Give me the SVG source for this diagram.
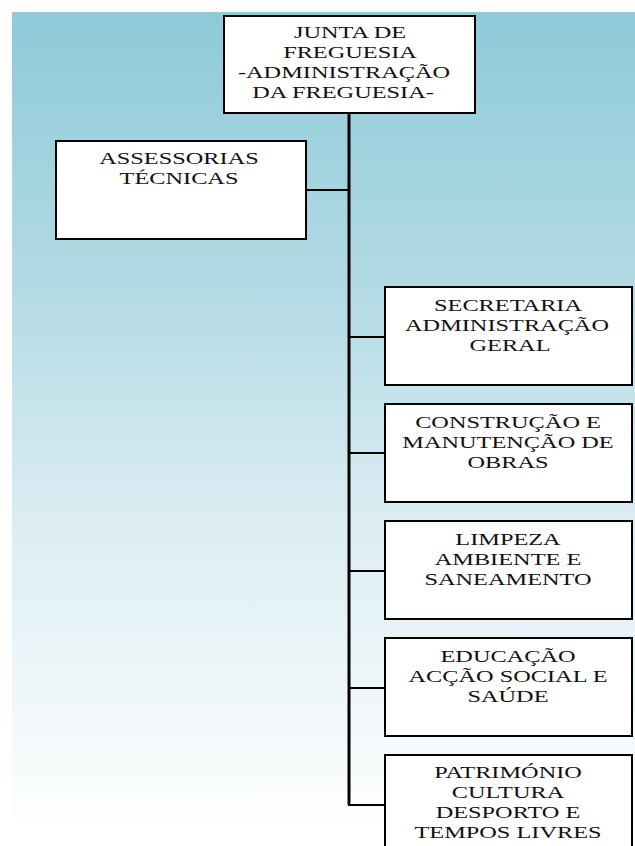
<svg xmlns="http://www.w3.org/2000/svg" width="635" height="846" viewBox="0 0 635 846">
  <defs>
    <linearGradient id="bg" x1="0" y1="0" x2="0" y2="1">
      <stop offset="0" stop-color="#8ecad8"/>
      <stop offset="0.35" stop-color="#b4dbe5"/>
      <stop offset="0.6" stop-color="#d9ecf2"/>
      <stop offset="1" stop-color="#ffffff"/>
    </linearGradient>
  </defs>
  <style>
    .box { fill: #ffffff; stroke: #000000; stroke-width: 2; }
    .t { font-family: "Liberation Serif", "Times New Roman", serif; font-size: 16px; fill: #111111; text-anchor: middle; }
    .trunk { fill: none; stroke: #000000; stroke-width: 3; }
    .conn { fill: none; stroke: #000000; stroke-width: 2; }
  </style>
  <rect x="0" y="0" width="635" height="846" fill="#ffffff"/>
  <rect x="12" y="12" width="623" height="821" fill="url(#bg)"/>

  <g id="connectors">
    <path class="trunk" d="M349 113 V805"/>
    <path class="conn" d="M306 190 H349"/>
    <path class="conn" d="M349 337 H385"/>
    <path class="conn" d="M349 453 H385"/>
    <path class="conn" d="M349 571 H385"/>
    <path class="conn" d="M349 688 H385"/>
    <path class="conn" d="M348 805 H385"/>
  </g>

  <g id="junta">
    <rect class="box" x="224" y="16" width="251" height="97"/>
    <text class="t" transform="translate(350 0) scale(1.52 1)" x="0" y="38">JUNTA DE</text>
    <text class="t" transform="translate(350 0) scale(1.52 1)" x="0" y="58">FREGUESIA</text>
    <text class="t" transform="translate(344 0) scale(1.52 1)" x="0" y="78">-ADMINISTRAÇÃO</text>
    <text class="t" transform="translate(343 0) scale(1.52 1)" x="0" y="98">DA FREGUESIA-</text>
  </g>

  <g id="assessorias">
    <rect class="box" x="56" y="141" width="250" height="98"/>
    <text class="t" transform="translate(179 0) scale(1.52 1)" x="0" y="164">ASSESSORIAS</text>
    <text class="t" transform="translate(179 0) scale(1.52 1)" x="0" y="184">TÉCNICAS</text>
  </g>

  <g id="secretaria">
    <rect class="box" x="385" y="287" width="247" height="98"/>
    <text class="t" transform="translate(508 0) scale(1.52 1)" x="0" y="311">SECRETARIA</text>
    <text class="t" transform="translate(507 0) scale(1.52 1)" x="0" y="331">ADMINISTRAÇÃO</text>
    <text class="t" transform="translate(510 0) scale(1.52 1)" x="0" y="351">GERAL</text>
  </g>

  <g id="construcao">
    <rect class="box" x="385" y="404" width="247" height="98"/>
    <text class="t" transform="translate(508 0) scale(1.52 1)" x="0" y="428">CONSTRUÇÃO E</text>
    <text class="t" transform="translate(508 0) scale(1.52 1)" x="0" y="448">MANUTENÇÃO DE</text>
    <text class="t" transform="translate(508 0) scale(1.52 1)" x="0" y="468">OBRAS</text>
  </g>

  <g id="limpeza">
    <rect class="box" x="385" y="521" width="247" height="98"/>
    <text class="t" transform="translate(508 0) scale(1.52 1)" x="0" y="545">LIMPEZA</text>
    <text class="t" transform="translate(508 0) scale(1.52 1)" x="0" y="565">AMBIENTE E</text>
    <text class="t" transform="translate(508 0) scale(1.52 1)" x="0" y="585">SANEAMENTO</text>
  </g>

  <g id="educacao">
    <rect class="box" x="385" y="638" width="247" height="98"/>
    <text class="t" transform="translate(508 0) scale(1.52 1)" x="0" y="662">EDUCAÇÃO</text>
    <text class="t" transform="translate(508 0) scale(1.52 1)" x="0" y="682">ACÇÃO SOCIAL E</text>
    <text class="t" transform="translate(508 0) scale(1.52 1)" x="0" y="702">SAÚDE</text>
  </g>

  <g id="patrimonio">
    <rect class="box" x="385" y="755" width="247" height="98"/>
    <text class="t" transform="translate(508 0) scale(1.52 1)" x="0" y="778">PATRIMÓNIO</text>
    <text class="t" transform="translate(508 0) scale(1.52 1)" x="0" y="798">CULTURA</text>
    <text class="t" transform="translate(508 0) scale(1.52 1)" x="0" y="818">DESPORTO E</text>
    <text class="t" transform="translate(508 0) scale(1.52 1)" x="0" y="838">TEMPOS LIVRES</text>
  </g>
</svg>
